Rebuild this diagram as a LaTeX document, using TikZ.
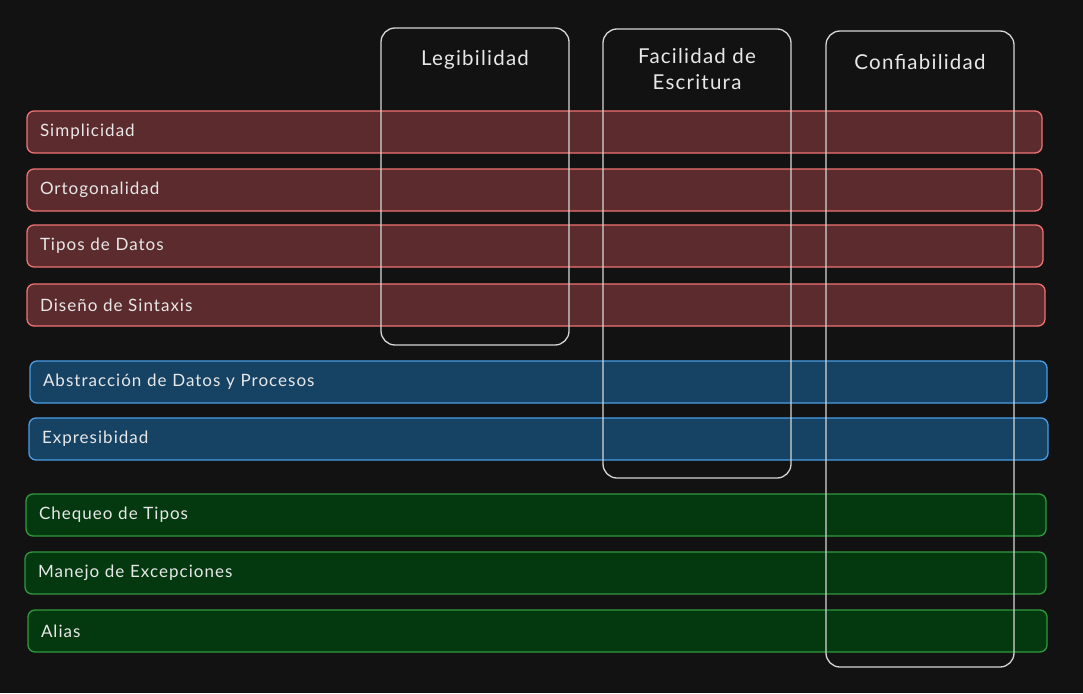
\documentclass[tikz,border=0pt]{standalone}
\usepackage{fontspec}
\setmainfont{Lato}[LetterSpace=6]
\definecolor{bgc}{HTML}{121212}
\definecolor{redfill}{HTML}{5C2B2E}
\definecolor{redline}{HTML}{F07272}
\definecolor{bluefill}{HTML}{164264}
\definecolor{blueline}{HTML}{4A9DE6}
\definecolor{greenfill}{HTML}{04390F}
\definecolor{greenline}{HTML}{2F9A3F}
\definecolor{colline}{HTML}{D6D6D6}
\definecolor{txt}{HTML}{E8E8E8}
\tikzset{
  rowbase/.style={rectangle, rounded corners=7pt, line width=1.3pt, minimum height=42pt,
    inner xsep=13pt, inner ysep=0pt, align=left, text=txt, font=\fontsize{17}{20}\selectfont},
  redrow/.style={rowbase, fill=redfill, draw=redline},
  bluerow/.style={rowbase, fill=bluefill, draw=blueline},
  greenrow/.style={rowbase, fill=greenfill, draw=greenline},
  colbox/.style={rectangle, rounded corners=14pt, draw=colline, line width=1.3pt, minimum width=188pt, inner sep=0pt},
  coltitle/.style={text=txt, align=center, font=\fontsize{20.5}{26}\selectfont}
}
\begin{document}
\begin{tikzpicture}[x=1pt,y=-1pt]
\fill[bgc] (0,0) rectangle (1083,693);
\useasboundingbox (0,0) rectangle (1083,693);
% rows
\node[redrow, minimum width=1015pt, text width=989pt] (simp) at (534.5,132) {Simplicidad};
\node[redrow, minimum width=1015pt, text width=989pt] (orto) at (534.5,190) {Ortogonalidad};
\node[redrow, minimum width=1016pt, text width=990pt] (tipos) at (535,246) {Tipos de Datos};
\node[redrow, minimum width=1018pt, text width=992pt] (dise) at (536,305) {Diseño de Sintaxis};
\node[bluerow, minimum width=1017pt, text width=991pt] (abst) at (538.5,382) {Abstracción de Datos y Procesos};
\node[bluerow, minimum width=1019pt, text width=993pt] (expr) at (538.5,439) {Expresibidad};
\node[greenrow, minimum width=1020pt, text width=994pt] (cheq) at (536,515) {Chequeo de Tipos};
\node[greenrow, minimum width=1021pt, text width=995pt] (manejo) at (535.5,573) {Manejo de Excepciones};
\node[greenrow, minimum width=1019pt, text width=993pt] (alias) at (537.5,631) {Alias};
% columns
\node[colbox, minimum height=317pt] (col1) at (475,186.5) {};
\node[colbox, minimum height=449pt] (col2) at (697,253.5) {};
\node[colbox, minimum height=636pt] (col3) at (920,349) {};
\node[coltitle] (t1) at (475,60) {Legibilidad};
\node[coltitle] (t2) at (697,69) {Facilidad de\\Escritura};
\node[coltitle] (t3) at (920,62) {Confiabilidad};
\end{tikzpicture}
\end{document}
